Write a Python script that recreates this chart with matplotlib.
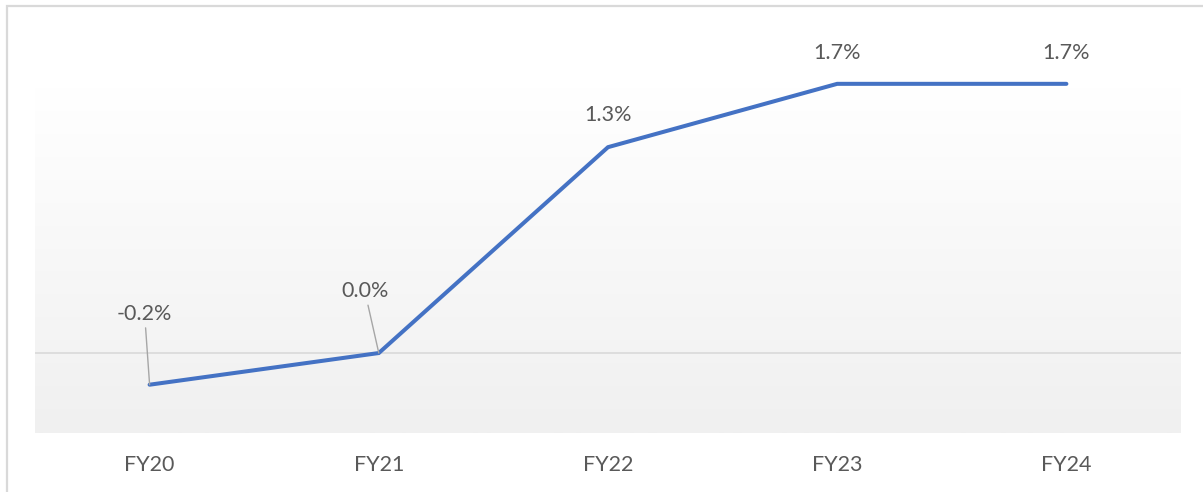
import numpy as np
import matplotlib
matplotlib.use("Agg")
import matplotlib.pyplot as plt
from matplotlib.patches import Rectangle

categories = ["FY20", "FY21", "FY22", "FY23", "FY24"]
values = [-0.2, 0.0, 1.3, 1.7, 1.7]
# label offsets in pixels (dx, dy) relative to each point
label_offsets = [(-5, 71), (-14, 62), (0, 32), (0, 31), (0, 31)]
leader = [True, True, False, False, False]

plt.rcParams['font.family'] = ['Lato', 'DejaVu Sans']

W, H = 1203, 492
fig = plt.figure(figsize=(W / 100, H / 100), dpi=100)
fig.patch.set_facecolor("white")

# outer chart border
fig.patches.append(Rectangle((6.5 / W, -0.05), 1.2, (H - 6) / H + 0.05,
                             transform=fig.transFigure, fill=False,
                             edgecolor="#d9d9d9", linewidth=1.6, zorder=0))

left, right, top, bottom = 35, 1181, 87, 433
ax = fig.add_axes([left / W, 1 - bottom / H, (right - left) / W, (bottom - top) / H])

# gradient background
grad = np.linspace(0, 1, 256).reshape(-1, 1)
c_top = np.array([1.0, 1.0, 1.0])
c_bot = np.array([0xf0, 0xf0, 0xf0]) / 255
img = c_top[None, None, :] * (1 - grad[:, :, None]) + c_bot[None, None, :] * grad[:, :, None]
ax.imshow(img, extent=[0, 1, 0, 1], transform=ax.transAxes, aspect="auto",
          origin="upper", zorder=0)

x = np.arange(len(categories))
ax.set_xlim(-0.5, len(categories) - 0.5)
ax.set_ylim(-0.505, 1.68)
ax.axhline(0, color="#d9d9d9", linewidth=1.2, zorder=1)
ax.plot(x, values, color="#4472C4", linewidth=2.9, solid_capstyle="round",
        solid_joinstyle="miter", zorder=3, clip_on=False)

for xi, v, (dx, dy), ld in zip(x, values, label_offsets, leader):
    kw = {}
    if ld:
        kw["arrowprops"] = dict(arrowstyle="-", color="#a6a6a6", linewidth=1.0,
                                shrinkA=1, shrinkB=0)
    ax.annotate(f"{v:.1f}%", xy=(xi, v), xytext=(dx, dy), textcoords="offset pixels",
                ha="center", va="center", fontsize=15.5, color="#595959",
                annotation_clip=False, zorder=4, **kw)

ax.set_xticks(x)
ax.set_xticklabels(categories, fontsize=15.5, color="#595959")
ax.tick_params(axis="x", length=0, pad=15.5)
ax.set_yticks([])
for s in ax.spines.values():
    s.set_visible(False)

fig.savefig("out.png", dpi=100, facecolor="white")
